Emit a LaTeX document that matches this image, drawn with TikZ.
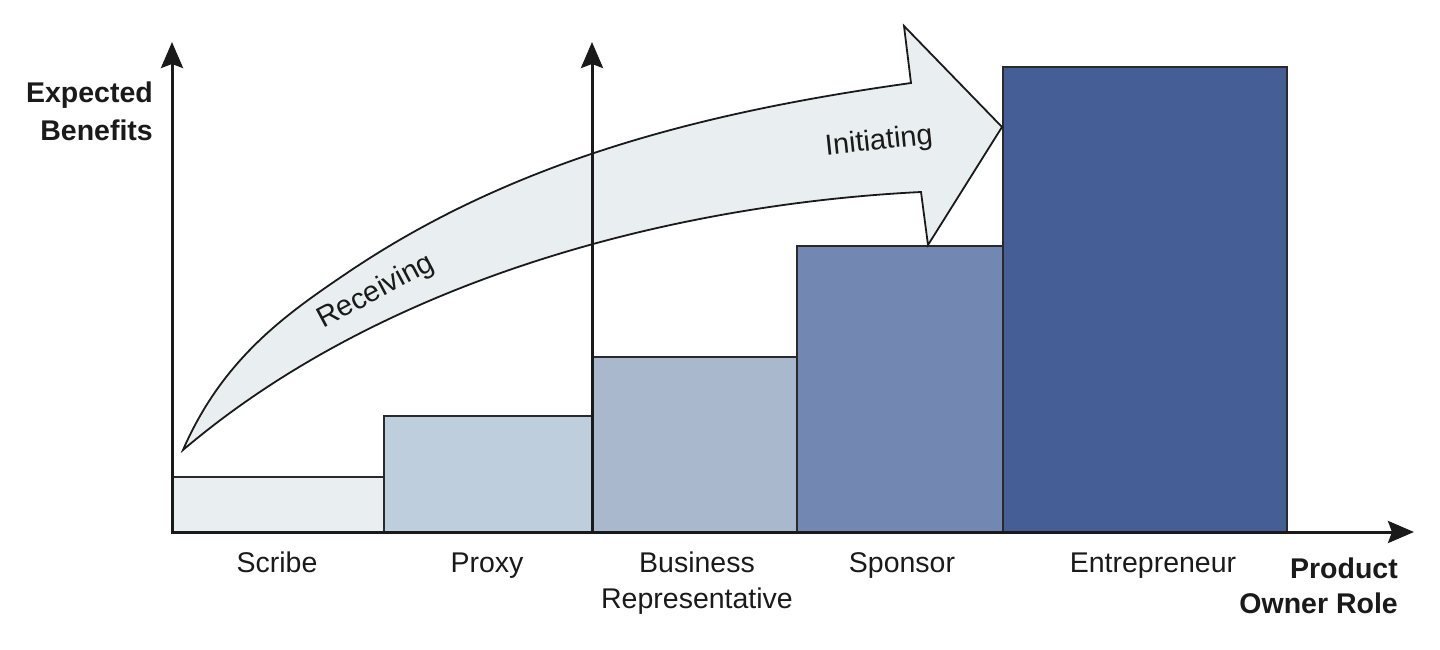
\documentclass[tikz,border=0pt]{standalone}
\usepackage{fontspec}
\setmainfont{Liberation Sans}
\usetikzlibrary{arrows.meta}
\definecolor{cScribe}{HTML}{E9EEF1}
\definecolor{cProxy}{HTML}{BFCEDD}
\definecolor{cBus}{HTML}{AAB8CE}
\definecolor{cSpon}{HTML}{7288B2}
\definecolor{cEntr}{HTML}{455E96}
\definecolor{cArrow}{HTML}{E9EEF1}
\definecolor{barline}{HTML}{2A2A2A}
\definecolor{ink}{HTML}{1A1A1A}
\tikzset{
  bar/.style={draw=barline, line width=1.6pt},
  axisline/.style={draw=ink, line width=3pt, -{Stealth[length=26pt,width=22pt,inset=4pt]}},
  bigarrow/.style={draw=ink, fill=cArrow, line width=1.8pt, line join=miter},
  lbl/.style={font=\fontsize{28.5}{35}\selectfont, inner sep=0pt, anchor=base, text=ink},
  blbl/.style={font=\bfseries\fontsize{28.5}{35}\selectfont, inner sep=0pt, anchor=base east, text=ink},
  arrlbl/.style={font=\fontsize{29}{35}\selectfont, inner sep=0pt, text=ink}
}
\begin{document}
\begin{tikzpicture}[x=1pt,y=-1pt]
\useasboundingbox (0,0) rectangle (1440,650);
% bars
\draw[bar, fill=cScribe] (172,532) rectangle (384,477);
\draw[bar, fill=cProxy] (384,532) rectangle (592,416);
\draw[bar, fill=cBus] (592,532) rectangle (797,357);
\draw[bar, fill=cSpon] (797,532) rectangle (1003,246);
\draw[bar, fill=cEntr] (1003,532) rectangle (1287,67);
% curved arrow
\coordinate (tail) at (183,450);
\coordinate (mid) at (347,273);
\coordinate (topbarb) at (911,83);
\coordinate (headtop) at (904,26);
\coordinate (headtip) at (1002,127);
\coordinate (headbot) at (928,245);
\coordinate (botbarb) at (921,192);
\filldraw[bigarrow]
  (tail) .. controls (223,358) and (287,313.6) .. (mid)
  .. controls (517,157.9) and (711,111) .. (topbarb)
  -- (headtop) -- (headtip) -- (headbot) -- (botbarb)
  .. controls (671,204.5) and (383,280) .. (tail)
  -- cycle;
\node[arrlbl, rotate=28] (recv) at (376,292) {Receiving};
\node[arrlbl, rotate=6] (init) at (879,142) {Initiating};
% axes
\coordinate (O) at (172,532);
\coordinate (Ostart) at (170.5,532);
\coordinate (Ytop) at (172,42);
\coordinate (Xend) at (1414,532);
\coordinate (M) at (592,532);
\coordinate (Mtop) at (592,42);
\draw[axisline] (O) -- (Ytop);
\draw[axisline] (M) -- (Mtop);
\draw[axisline] (Ostart) -- (Xend);
% labels
\node[lbl] (scribe) at (277,572) {Scribe};
\node[lbl] (proxy) at (487,572) {Proxy};
\node[lbl] (bus1) at (697,572) {Business};
\node[lbl] (bus2) at (697,608) {Representative};
\node[lbl] (spon) at (902,572) {Sponsor};
\node[lbl] (entr) at (1153,572) {Entrepreneur};
\node[blbl] (prod1) at (1398,578) {Product};
\node[blbl] (prod2) at (1398,613) {Owner Role};
\node[blbl] (exp1) at (153,103) {Expected};
\node[blbl] (exp2) at (153,141) {Benefits};
\end{tikzpicture}
\end{document}
